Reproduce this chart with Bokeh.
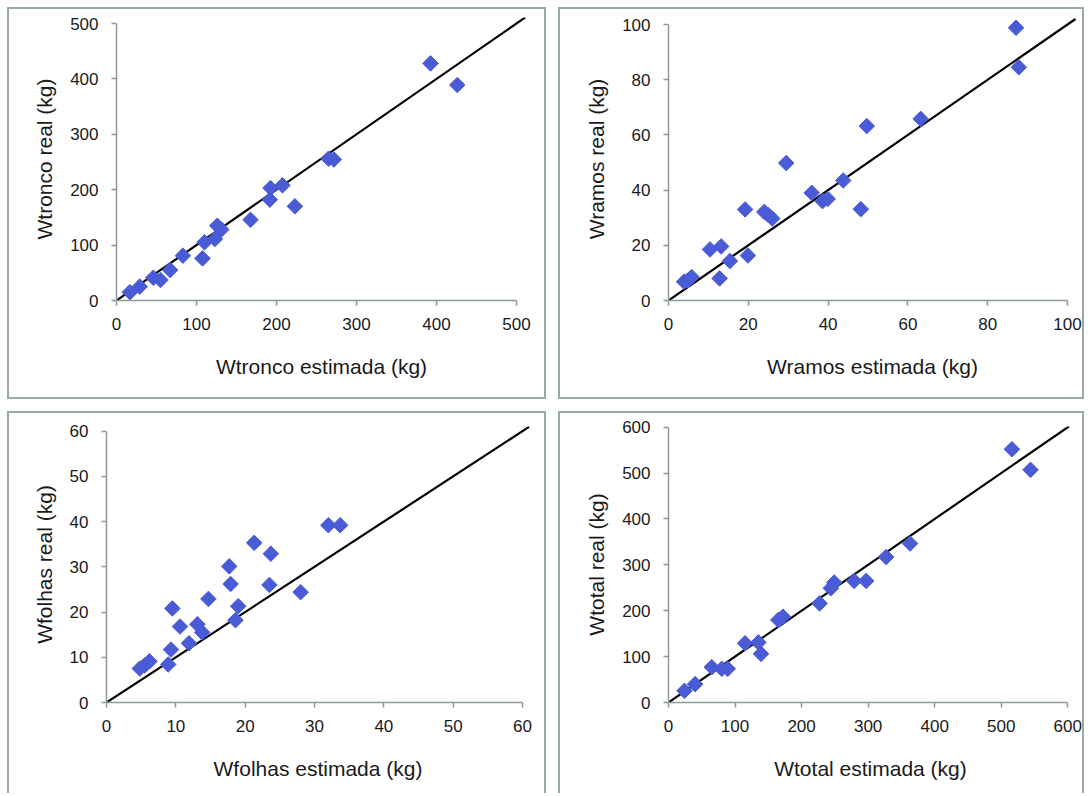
import math
from bokeh.plotting import figure
from bokeh.layouts import column, row
from bokeh.models import FixedTicker
from bokeh.embed import file_html
from bokeh.resources import INLINE

# ---------------- data ----------------
tronco_est = [16.7, 29, 46, 55, 67, 83, 107.5, 110, 123, 126, 131, 167.5, 191.7, 192.5, 207.5, 223, 265, 271.7, 392.5, 426]
tronco_real = [15, 25, 41, 37, 55, 81, 76, 105, 111, 135, 128, 145.6, 182, 203, 208, 170, 256, 254.5, 428, 389]

ramos_est = [3.9, 4.8, 5.8, 10.4, 13.2, 12.8, 15.4, 19.9, 19.2, 24.0, 25.0, 26.0, 29.5, 35.9, 38.6, 39.9, 43.8, 48.2, 49.7, 63.2, 87.1, 87.8]
ramos_real = [6.8, 7.2, 8.5, 18.5, 19.6, 8.0, 14.3, 16.3, 33.0, 32.1, 31.0, 29.7, 49.8, 39.0, 36.0, 36.8, 43.5, 33.1, 63.2, 65.8, 98.8, 84.5]

folhas_est = [4.8, 5.5, 6.2, 8.9, 9.3, 9.5, 10.6, 11.9, 13.1, 13.8, 14.7, 17.7, 17.9, 18.6, 19.0, 21.3, 23.5, 23.7, 28.0, 32.0, 33.7]
folhas_real = [7.5, 8.2, 9.1, 8.4, 11.7, 20.8, 16.8, 13.1, 17.3, 15.5, 22.9, 30.1, 26.2, 18.2, 21.3, 35.3, 26.0, 32.9, 24.4, 39.2, 39.2]

total_est = [24, 40, 65, 80, 89, 115, 135, 139, 165, 172, 227, 244, 249, 279, 297, 327, 363, 516, 544]
total_real = [25.4, 40, 77, 73.4, 73.4, 129, 131, 106, 180, 187, 216, 249, 261.5, 265, 265, 317, 346.5, 552, 507]

line_tronco = [0, 511]
line_ramos = [0, 102]
line_folhas = [0, 61]
line_total = [0, 602]

ticks_tronco = [0, 100, 200, 300, 400, 500]
ticks_ramos = [0, 20, 40, 60, 80, 100]
ticks_folhas = [0, 10, 20, 30, 40, 50, 60]
ticks_total = [0, 100, 200, 300, 400, 500, 600]

labels = [
    ("Wtronco estimada (kg)", "Wtronco real (kg)"),
    ("Wramos estimada (kg)", "Wramos real (kg)"),
    ("Wfolhas estimada (kg)", "Wfolhas real (kg)"),
    ("Wtotal estimada (kg)", "Wtotal real (kg)"),
]

# ---------------- styling ----------------
MARKER = "#4a5bd6"
AXIS = "#8d9b98"
BORDER = "#98aaa6"
TXT = "#1a1a1a"
FONT = "Liberation Sans"


def panel(xs, ys, line, ticks, xlab, ylab, W, H, L, R, T, B, ax_x_px, ax_y_px, open_bottom=False):
    fw = W - L - R
    fh = H - T - B
    vmax = ticks[-1]
    x_end = fw * vmax / ax_x_px
    y_end = fh * vmax / ax_y_px
    styles = {"border": f"2px solid {BORDER}", "box-sizing": "border-box"}
    if open_bottom:
        styles["border-bottom"] = "none"
    p = figure(width=W, height=H, x_range=(0, x_end), y_range=(0, y_end),
               output_backend="svg", toolbar_location=None,
               min_border_left=L, min_border_right=R, min_border_top=T, min_border_bottom=B,
               background_fill_color="white", border_fill_color="white",
               styles=styles)
    p.outline_line_color = None
    p.grid.visible = False
    for ax, lab in ((p.xaxis[0], xlab), (p.yaxis[0], ylab)):
        ax.ticker = FixedTicker(ticks=ticks)
        ax.bounds = (0, vmax)
        ax.minor_tick_line_color = None
        ax.major_tick_in = 0
        ax.major_tick_out = 5
        ax.axis_line_color = AXIS
        ax.axis_line_width = 1.5
        ax.major_tick_line_color = AXIS
        ax.major_tick_line_width = 1.5
        ax.major_label_text_font = FONT
        ax.major_label_text_font_size = "17px"
        ax.major_label_text_color = TXT
        ax.axis_label = lab
        ax.axis_label_text_font = FONT
        ax.axis_label_text_font_size = "21px"
        ax.axis_label_text_font_style = "normal"
        ax.axis_label_text_color = TXT
    p.xaxis[0].major_label_standoff = 12
    p.xaxis[0].axis_label_standoff = 22
    p.yaxis[0].major_label_standoff = 13
    p.yaxis[0].axis_label_standoff = 11
    p.line(line, line, line_color="black", line_width=2.2)
    p.scatter(xs, ys, marker="square", angle=math.pi / 4, size=11,
              fill_color=MARKER, line_color=MARKER)
    return p


p1 = panel(tronco_est, tronco_real, line_tronco, ticks_tronco, *labels[0],
           W=539, H=392, L=107, R=22, T=8, B=101, ax_x_px=400, ax_y_px=277)
p2 = panel(ramos_est, ramos_real, line_ramos, ticks_ramos, *labels[1],
           W=526, H=392, L=108, R=10, T=8, B=101, ax_x_px=399, ax_y_px=276)
p3 = panel(folhas_est, folhas_real, line_folhas, ticks_folhas, *labels[2],
           W=539, H=382, L=97, R=19, T=9, B=93, ax_x_px=416, ax_y_px=275.3, open_bottom=True)
p4 = panel(total_est, total_real, line_total, ticks_total, *labels[3],
           W=526, H=382, L=108, R=14, T=13, B=93, ax_x_px=399.3, ax_y_px=275.3, open_bottom=True)

layout = column(row(p1, p2, spacing=12), row(p3, p4, spacing=12), spacing=12,
                margin=(7, 0, 0, 7))

open("out.html", "w").write(file_html(layout, INLINE))
